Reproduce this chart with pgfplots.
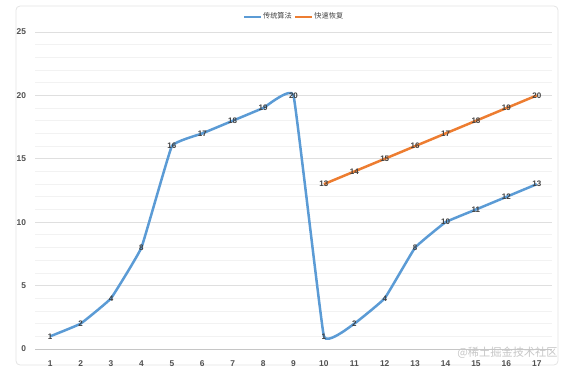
\documentclass[border=0pt]{standalone}
\usepackage{pgfplots}
\pgfplotsset{compat=1.18}
\usepackage{fontspec}
\setmainfont{Liberation Sans}
\newfontfamily\cjk{Noto Sans CJK SC}
\definecolor{sblue}{HTML}{5B9BD5}
\definecolor{sorange}{HTML}{ED7D31}
\definecolor{tick}{HTML}{505050}
\definecolor{lab}{HTML}{404040}
\begin{document}
\begin{tikzpicture}
\useasboundingbox (0,0) rectangle (285pt,185.5pt);
\draw[gray!22, rounded corners=2pt] (8pt,3pt) rectangle (279pt,182.5pt);
\begin{axis}[
  scale only axis, width=258.5pt, height=158.5pt,
  at={(17.5pt,11pt)}, anchor=south west,
  xmin=0.5, xmax=17.5, ymin=0, ymax=25,
  axis x line*=bottom, axis y line*=left,
  y axis line style={draw=none},
  x axis line style={draw=gray!45, line width=0.5pt, -},
  xtick={1,...,17}, ytick={0,5,...,25},
  minor y tick num=4,
  major tick length=0pt, minor tick length=0pt,
  ymajorgrids, yminorgrids,
  major grid style={draw=gray!25, line width=0.4pt},
  minor grid style={draw=gray!10, line width=0.4pt},
  tick label style={font=\fontsize{4.2}{5}\selectfont\bfseries, text=tick},
  /pgf/number format/assume math mode=true,
  xticklabel style={yshift=-2.5pt},
  yticklabel style={xshift=-1pt},
  legend style={at={(0.5,1.047)}, anchor=center, draw=none, fill=none,
    legend columns=2, font=\cjk\fontsize{3.6}{4}\selectfont, text=lab,
    /tikz/every even column/.append style={column sep=0.8pt},
    inner sep=0pt, nodes={inner sep=0.4pt}},
  legend image code/.code={\draw[#1, line width=1.2pt] (0pt,0pt) -- (8.5pt,0pt);},
  nodes near coords,
  every node near coord/.append style={anchor=center, font=\fontsize{4}{5}\selectfont\bfseries, text=lab},
]
\addplot[sblue, line width=1.25pt, smooth, tension=0.15] coordinates {
(1,1) (2,2) (3,4) (4,8) (5,16) (6,17) (7,18) (8,19) (9,20)
(10,1) (11,2) (12,4) (13,8) (14,10) (15,11) (16,12) (17,13)};
\addlegendentry{传统算法}
\addplot[sorange, line width=1.25pt] coordinates {
(10,13) (11,14) (12,15) (13,16) (14,17) (15,18) (16,19) (17,20)};
\addlegendentry{快速恢复}
\end{axis}
\node[anchor=east, text=gray!45, font=\cjk\fontsize{5.6}{6}\selectfont, inner sep=0pt] at (279pt,9pt) {@稀土掘金技术社区};
\end{tikzpicture}
\end{document}
